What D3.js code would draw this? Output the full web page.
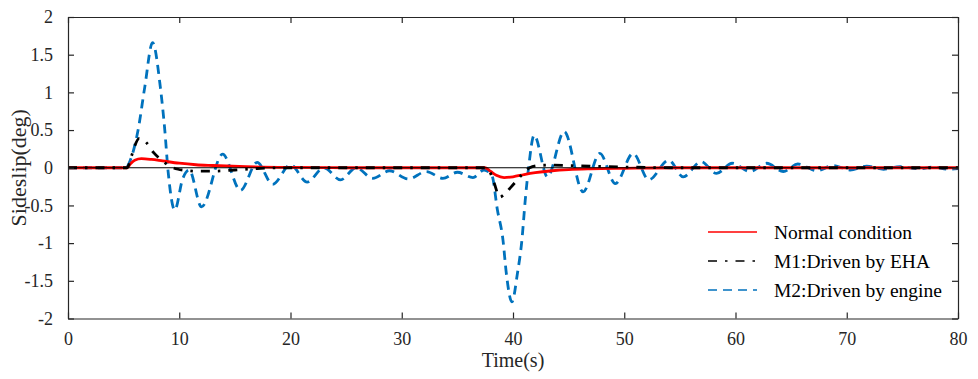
<!DOCTYPE html>
<html>
<head>
<meta charset="utf-8">
<script src="https://cdn.jsdelivr.net/npm/d3@7/dist/d3.min.js"></script>
<style>
  html, body { margin: 0; padding: 0; background: #fff; }
  svg { display: block; }
  svg text { font-family: "Liberation Serif", "Times New Roman", serif !important; }
</style>
</head>
<body>
<svg id="chart" width="978" height="379"></svg>
<script>
// ---- data ----
const xTicks = [0, 10, 20, 30, 40, 50, 60, 70, 80];
const yTicks = [-2, -1.5, -1, -0.5, 0, 0.5, 1, 1.5, 2];
const yTickLabels = ["-2", "-1.5", "-1", "-0.5", "0", "0.5", "1", "1.5", "2"];
const seriesNames = ["Normal condition", "M1:Driven by EHA", "M2:Driven by engine"];

const normalT = [0, 5.3, 5.6, 6.0, 6.6, 7.5, 8.5, 10, 11.5, 13, 16, 20, 25, 37.5, 38.0, 38.5, 39.2, 40.0, 41.0, 42, 43.5, 45, 47, 50, 55, 80];
const normalV = [0, 0, 0.05, 0.1, 0.12, 0.11, 0.09, 0.06, 0.04, 0.03, 0.015, 0.005, 0, 0, -0.05, -0.1, -0.13, -0.12, -0.09, -0.065, -0.04, -0.025, -0.015, -0.008, 0, 0];

const m1T = [0, 5.3, 5.7, 6.0, 6.4, 7.0, 7.7, 8.5, 9.3, 9.9, 10.6, 11.5, 13, 15, 17, 20, 37.5, 37.9, 38.3, 38.8, 39.3, 39.8, 40.4, 41.0, 41.5, 42.3, 43.5, 45, 47, 50, 55, 80];
const m1V = [0, 0, 0.15, 0.29, 0.39, 0.34, 0.2, 0.09, 0.01, -0.02, -0.035, -0.045, -0.045, -0.03, -0.01, 0, 0, -0.05, -0.2, -0.39, -0.34, -0.26, -0.16, -0.06, 0.0, 0.03, 0.035, 0.03, 0.02, 0.01, 0, 0];

const m2T = [0, 5.2, 5.6, 6.3, 6.9, 7.6, 8.3, 8.7, 9.0, 9.6, 10.3, 10.9, 12.0, 13.9, 15.5, 17.0, 18.4, 20.0, 21.5, 23.0, 24.5, 25.9, 27.4, 28.9, 30.6, 32.2, 33.7, 35.0, 36.4, 37.4, 38.1, 38.6, 39.1, 39.4, 39.9, 40.4, 40.8, 41.1, 41.4, 41.9, 43.1, 44.6, 46.3, 47.8, 49.2, 50.8, 52.2, 54.0, 55.3, 56.9, 58.3, 59.7, 61.3, 62.8, 64.3, 65.6, 67.3, 68.8, 70.3, 71.8, 73.3, 74.8, 76.6, 77.8, 79.1, 80];
const m2V = [0, 0, 0.1, 0.5, 1.07, 1.66, 1.07, 0.5, -0.05, -0.56, -0.15, -0.03, -0.52, 0.18, -0.3, 0.07, -0.22, 0.04, -0.19, 0.0, -0.16, 0.0, -0.14, -0.04, -0.15, -0.05, -0.14, -0.06, -0.13, -0.03, -0.1, -0.56, -0.96, -1.4, -1.78, -1.4, -0.96, -0.43, 0.0, 0.43, -0.12, 0.48, -0.32, 0.19, -0.21, 0.19, -0.16, 0.1, -0.12, 0.08, -0.075, 0.06, -0.05, 0.06, -0.05, 0.05, -0.04, 0.03, -0.03, 0.02, -0.02, 0.015, -0.015, 0.01, -0.02, -0.01];

// ---- layout ----
const W = 978, H = 379;
const m = { left: 68, right: 20, top: 17, bottom: 60.5 };
const iw = W - m.left - m.right, ih = H - m.top - m.bottom;
const axisColor = "#262626";
const serif = "'Liberation Serif', 'Times New Roman', serif";

const svg = d3.select("#chart");
const g = svg.append("g").attr("transform", `translate(${m.left},${m.top})`);

const x = d3.scaleLinear().domain([0, 80]).range([0, iw]);
const y = d3.scaleLinear().domain([-2, 2]).range([ih, 0]);

g.append("defs").append("clipPath").attr("id", "clip")
  .append("rect").attr("width", iw).attr("height", ih);

const zip = (ts, vs) => ts.map((t, i) => [t, vs[i]]);
const line = d3.line().x(d => x(d[0])).y(d => y(d[1])).curve(d3.curveMonotoneX);

const plot = g.append("g").attr("clip-path", "url(#clip)");

const styles = [
  { color: "#FF0000", dash: null },
  { color: "#000000", dash: "9,8,2.5,8" },
  { color: "#0072BD", dash: "9,6" }
];

plot.append("path").datum(zip(m2T, m2V)).attr("d", line)
  .attr("fill", "none").attr("stroke", styles[2].color).attr("stroke-width", 2.8)
  .attr("stroke-dasharray", styles[2].dash);
plot.append("path").datum(zip(normalT, normalV)).attr("d", line)
  .attr("fill", "none").attr("stroke", styles[0].color).attr("stroke-width", 2.8);
plot.append("path").datum(zip(m1T, m1V)).attr("d", line)
  .attr("fill", "none").attr("stroke", styles[1].color).attr("stroke-width", 2.8)
  .attr("stroke-dasharray", styles[1].dash);

// zero line
plot.append("line").attr("x1", 0).attr("x2", iw).attr("y1", y(0)).attr("y2", y(0))
  .attr("stroke", "#000").attr("stroke-width", 1);

// axes (inward ticks, all four sides)
const tickLen = 6;
const xb = g.append("g").attr("transform", `translate(0,${ih})`)
  .call(d3.axisBottom(x).tickValues(xTicks).tickSizeInner(-tickLen).tickSizeOuter(0).tickPadding(14));
const xt = g.append("g")
  .call(d3.axisTop(x).tickValues(xTicks).tickSizeInner(-tickLen).tickSizeOuter(0).tickFormat(""));
const yl = g.append("g")
  .call(d3.axisLeft(y).tickValues(yTicks).tickSizeInner(-tickLen).tickSizeOuter(0).tickPadding(15)
    .tickFormat((d, i) => yTickLabels[i]));
const yr = g.append("g").attr("transform", `translate(${iw},0)`)
  .call(d3.axisRight(y).tickValues(yTicks).tickSizeInner(-tickLen).tickSizeOuter(0).tickFormat(""));

[xb, xt, yl, yr].forEach(a => {
  a.attr("font-family", serif).attr("font-size", 18);
  a.select(".domain").attr("stroke", axisColor).attr("stroke-width", 1.2);
  a.selectAll(".tick line").attr("stroke", axisColor).attr("stroke-width", 1.2);
  a.selectAll("text").style("font-family", serif).attr("font-size", 18).attr("fill", axisColor);
});

// axis labels
svg.append("text").attr("x", m.left + iw / 2).attr("y", 367)
  .attr("text-anchor", "middle").attr("font-size", 20).attr("fill", axisColor)
  .style("font-family", serif).text("Time(s)");
svg.append("text").attr("transform", `translate(26,${m.top + ih / 2}) rotate(-90)`)
  .attr("text-anchor", "middle").attr("font-size", 22).attr("fill", axisColor)
  .style("font-family", serif).text("Sideslip(deg)");

// legend
const legY = [232, 261, 290];
const leg = svg.append("g");
seriesNames.forEach((name, i) => {
  leg.append("line").attr("x1", 708).attr("x2", 757).attr("y1", legY[i]).attr("y2", legY[i])
    .attr("stroke", styles[i].color).attr("stroke-width", 1.5)
    .attr("stroke-dasharray", styles[i].dash);
  leg.append("text").attr("x", 774).attr("y", legY[i] + 7).attr("font-size", 19.5)
    .attr("fill", "#000").style("font-family", serif).text(name);
});
</script>
</body>
</html>
